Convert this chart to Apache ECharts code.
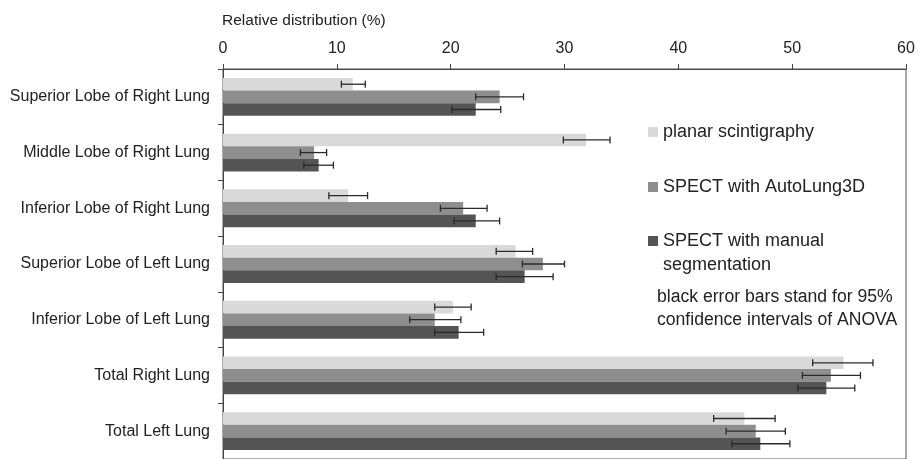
<!DOCTYPE html>
<html>
<head>
<meta charset="utf-8">
<script src="https://cdn.jsdelivr.net/npm/echarts@6/dist/echarts.min.js"></script>
<style>
  html, body { margin: 0; padding: 0; background: #fff; }
  #main { width: 919px; height: 459px; }
</style>
</head>
<body>
<div id="main"></div>
<script>
// categories, top to bottom
const categories = [
  'Superior Lobe of Right Lung',
  'Middle Lobe of Right Lung',
  'Inferior Lobe of Right Lung',
  'Superior Lobe of Left Lung',
  'Inferior Lobe of Left Lung',
  'Total Right Lung',
  'Total Left Lung'
];
const seriesNames = ['planar scintigraphy', 'SPECT with AutoLung3D', 'SPECT with manual\nsegmentation'];

// mean values (%)
const planar = [11.4, 31.9, 11.0, 25.7, 20.2, 54.5, 45.8];
const autoLung = [24.3, 8.0, 21.1, 28.1, 18.6, 53.4, 46.8];
const manual = [22.2, 8.4, 22.2, 26.5, 20.7, 53.0, 47.2];

// 95% CI low / high
const planarLow = [10.4, 29.9, 9.3, 24.0, 18.6, 51.8, 43.1];
const planarHigh = [12.5, 34.0, 12.7, 27.2, 21.8, 57.1, 48.5];
const autoLow = [22.2, 6.8, 19.1, 26.3, 16.4, 50.9, 44.2];
const autoHigh = [26.4, 9.1, 23.2, 30.0, 20.9, 56.0, 49.4];
const manualLow = [20.1, 7.1, 20.3, 24.0, 18.6, 50.5, 44.7];
const manualHigh = [24.4, 9.7, 24.3, 29.0, 22.9, 55.5, 49.8];

const xTicks = [0, 10, 20, 30, 40, 50, 60];

const colors = ['#d9d9d9', '#8e8e8e', '#545454'];
const means = [planar, autoLung, manual];
const lows = [planarLow, autoLow, manualLow];
const highs = [planarHigh, autoHigh, manualHigh];
const gapRatio = 0.32;
const FONT = 'Liberation Sans, Arial, sans-serif';

const chart = echarts.init(document.getElementById('main'));

function errorSeries(idx) {
  return {
    type: 'custom',
    z: 10,
    silent: true,
    data: categories.map((c, i) => [lows[idx][i], highs[idx][i], i]),
    encode: { x: [0, 1], y: 2 },
    renderItem: function (params, api) {
      const lo = api.coord([api.value(0), api.value(2)]);
      const hi = api.coord([api.value(1), api.value(2)]);
      const band = api.size([0, 1])[1];
      const bw = band * (1 - gapRatio) / 3;
      const y = lo[1] + (idx - 1) * bw;
      const cap = 3.5;
      const style = { stroke: '#2a2a2a', lineWidth: 1.3 };
      return {
        type: 'group',
        children: [
          { type: 'line', shape: { x1: lo[0], y1: y, x2: hi[0], y2: y }, style: style },
          { type: 'line', shape: { x1: lo[0], y1: y - cap, x2: lo[0], y2: y + cap }, style: style },
          { type: 'line', shape: { x1: hi[0], y1: y - cap, x2: hi[0], y2: y + cap }, style: style }
        ]
      };
    }
  };
}

const barSeries = seriesNames.map((name, k) => ({
  name: name,
  type: 'bar',
  data: means[k],
  barGap: '0%',
  barCategoryGap: (gapRatio * 100) + '%',
  itemStyle: { color: colors[k] }
}));

// one legend block per entry so the two-line entry keeps its square on the first line
const legendTops = [120, 175, 229];
const legends = seriesNames.map((name, k) => ({
  orient: 'vertical',
  left: 648,
  top: legendTops[k],
  padding: 0,
  itemWidth: 10,
  itemHeight: k === 2 ? 34 : 10,
  itemGap: 0,
  icon: k === 2 ? 'path://M0,0h10v10h-10z M0,34h0.01v0.01h-0.01z' : 'rect',
  textStyle: { fontSize: 18, color: '#222', lineHeight: 24, fontFamily: FONT },
  data: [name]
}));

const option = {
  animation: false,
  textStyle: { fontFamily: FONT },
  title: {
    text: 'Relative distribution (%)',
    left: 217,
    top: 8,
    textStyle: { fontSize: 15.5, fontWeight: 'normal', color: '#222', fontFamily: FONT }
  },
  grid: {
    left: 223, right: 13, top: 69, height: 392,
    show: true, borderColor: '#555', borderWidth: 1, backgroundColor: 'transparent'
  },
  legend: legends,
  graphic: [{
    type: 'text',
    left: 657,
    top: 286,
    style: {
      text: 'black error bars stand for 95%\nconfidence intervals of ANOVA',
      font: '17.6px "Liberation Sans", Arial, sans-serif',
      fill: '#222',
      lineHeight: 23
    }
  }],
  xAxis: {
    type: 'value',
    position: 'top',
    min: 0, max: 60, interval: 10,
    axisLine: { show: true, lineStyle: { color: '#444', width: 1 } },
    axisTick: { show: true, length: 5, lineStyle: { color: '#444' } },
    axisLabel: {
      fontSize: 16, color: '#222', margin: 12,
      formatter: v => xTicks.includes(v) ? String(v) : ''
    },
    splitLine: { show: false }
  },
  yAxis: {
    type: 'category',
    inverse: true,
    data: categories,
    axisLine: { show: true, lineStyle: { color: '#444', width: 1 } },
    axisTick: { show: true, length: 5, lineStyle: { color: '#444' } },
    axisLabel: { fontSize: 16, color: '#222', margin: 13 }
  },
  series: [...barSeries, errorSeries(0), errorSeries(1), errorSeries(2)]
};

chart.setOption(option);
</script>
</body>
</html>
